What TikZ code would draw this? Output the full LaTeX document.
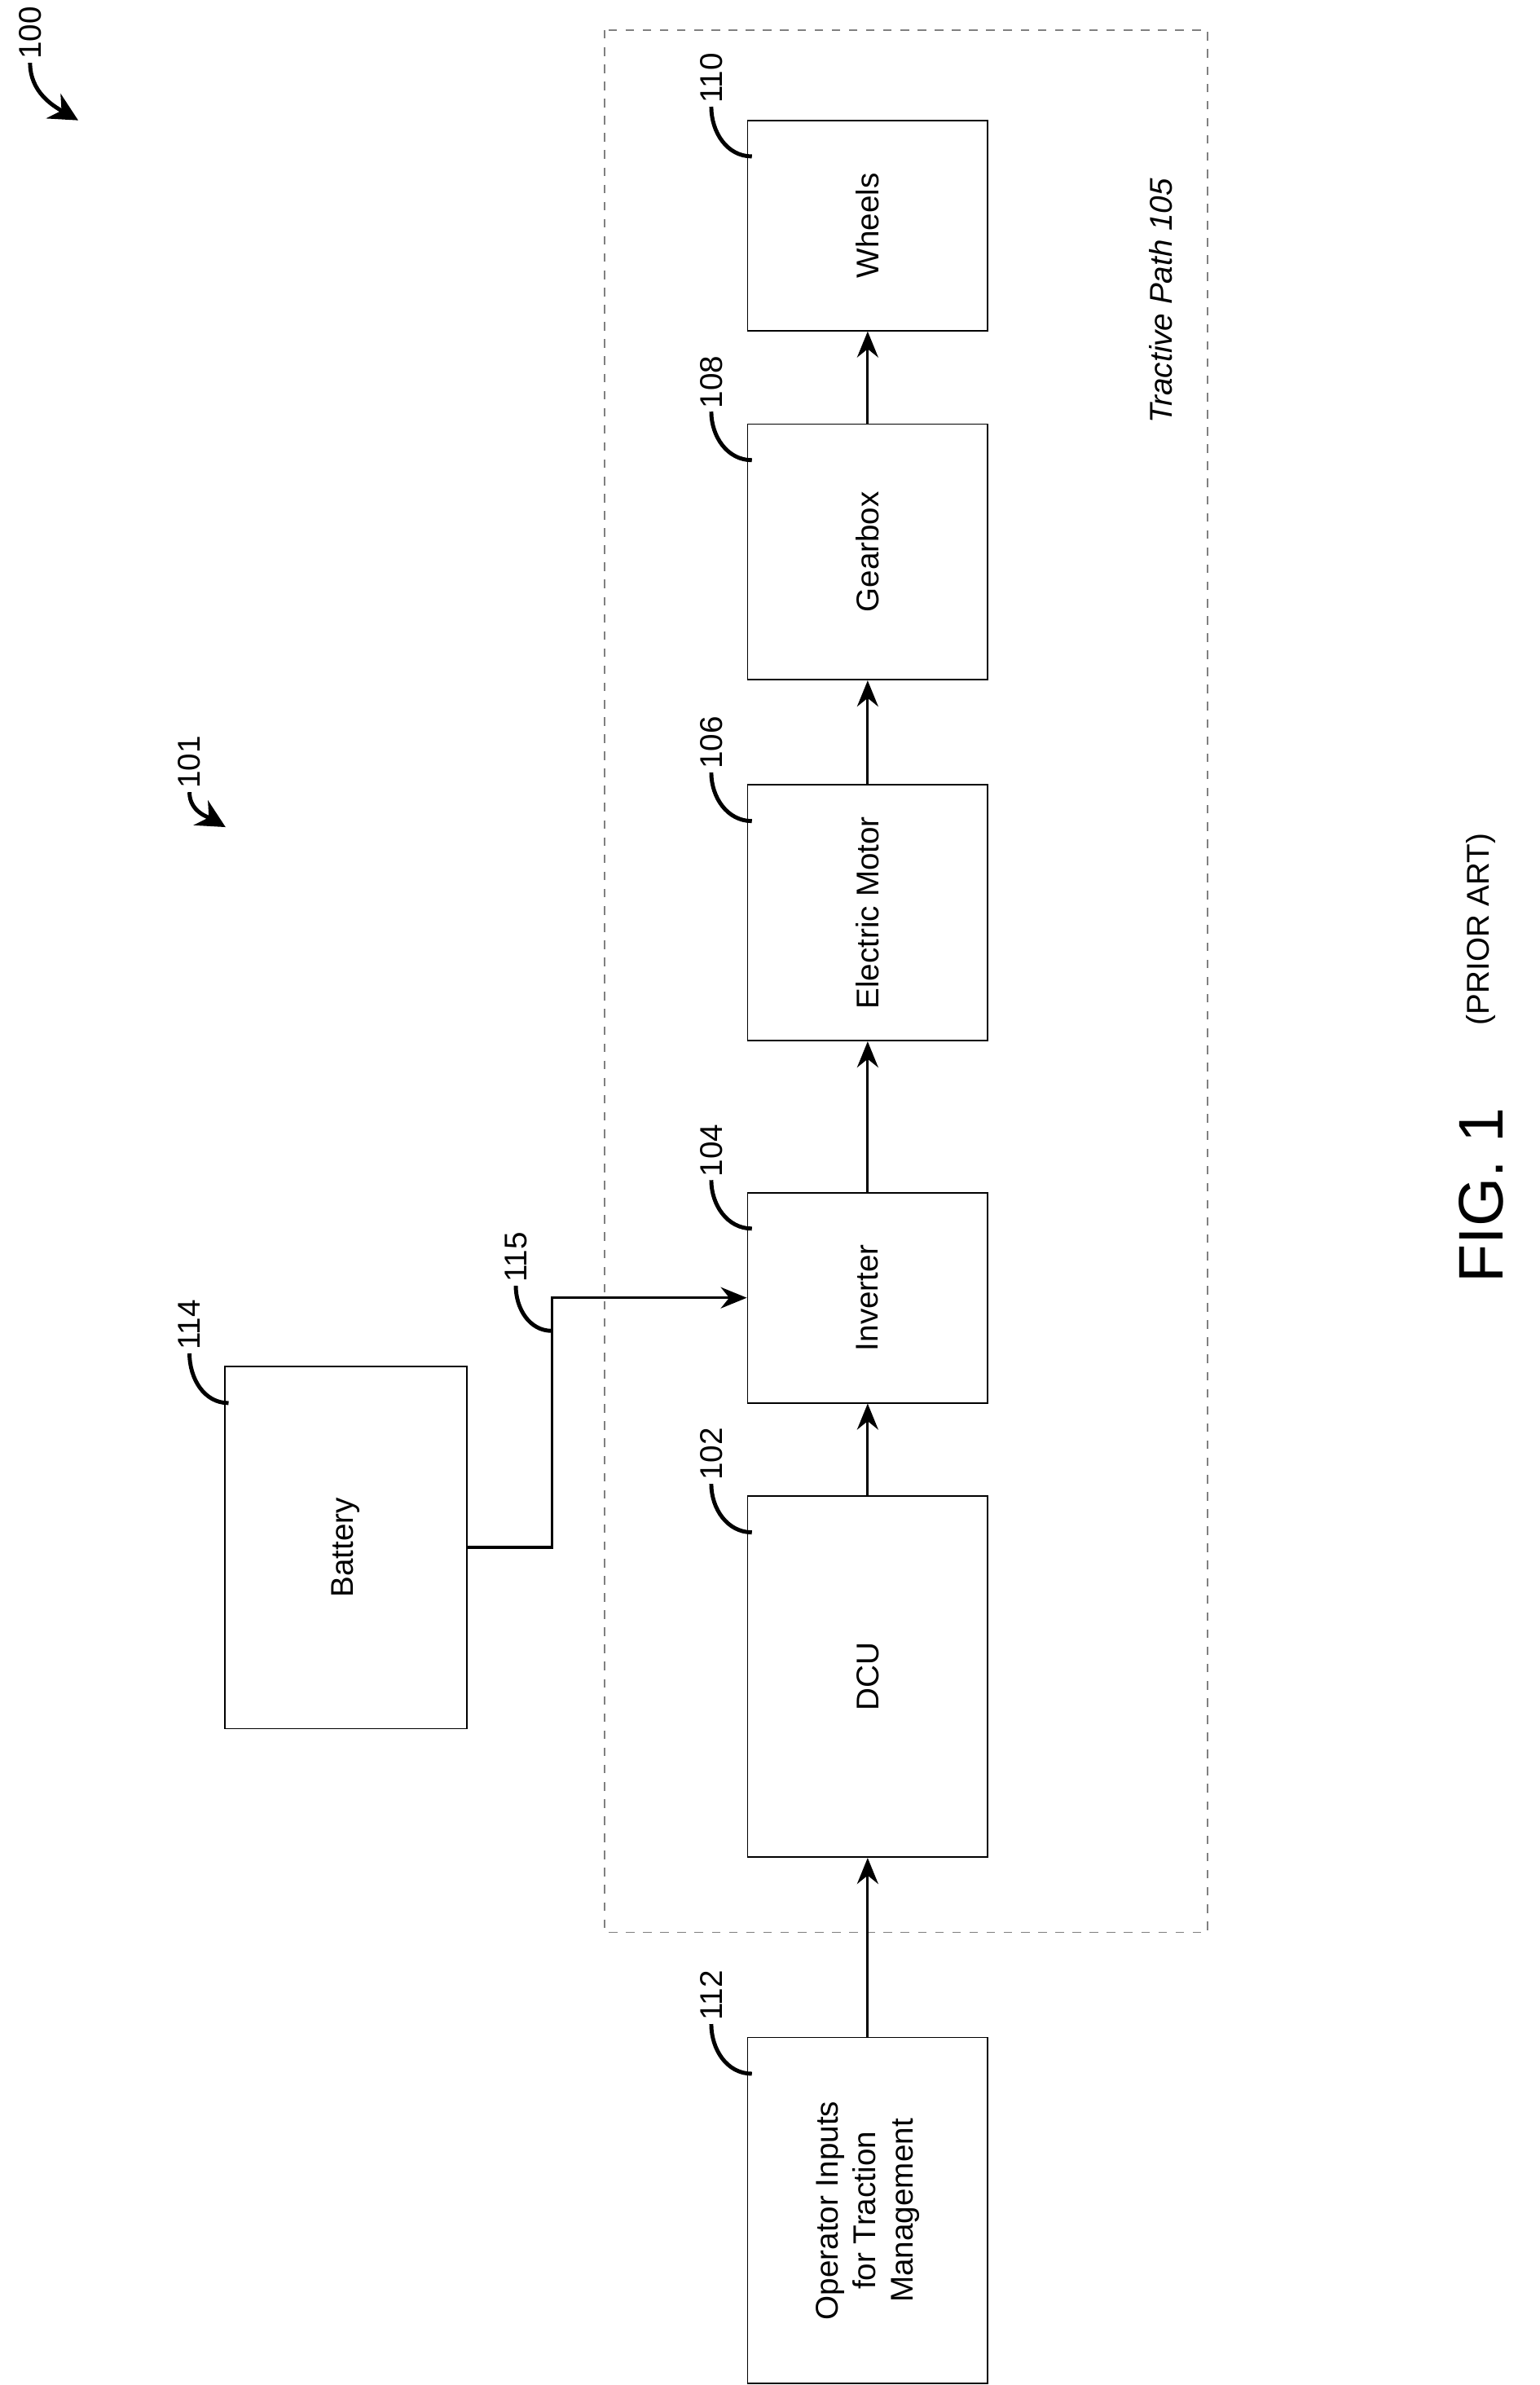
\documentclass[tikz,border=0pt]{standalone}
\usepackage{fontspec}
\setmainfont{Liberation Sans}
\usetikzlibrary{arrows.meta}
\begin{document}
\begin{tikzpicture}[x=0.01846cm,y=-0.01846cm]
	\tikzstyle{blk} = [draw=black, line width=0.5pt, rotate=90, minimum height=2.95cm, inner sep=0pt, align=center, font=\fontsize{11}{13}\selectfont]
\tikzstyle{line} = [line width=0.9pt,-{Stealth[length=3.2mm,width=2.6mm]}]
\tikzstyle{lead} = [line width=1.4pt]
\tikzstyle{num} = [rotate=90, inner sep=1pt, font=\fontsize{11}{13}\selectfont]
\useasboundingbox (0,0) rectangle (1024,1586);
\draw[gray, dashed, line width=0.4pt] (402,20) rectangle (803,1285);
\node(wh)[blk, minimum width=2.58cm] at (577,150) {Wheels};
\node(gb)[blk, minimum width=3.14cm] at (577,367) {Gearbox};
\node(em)[blk, minimum width=3.14cm] at (577,607) {Electric Motor};
\node(inv)[blk, minimum width=2.58cm] at (577,863) {Inverter};
\node(dcu)[blk, minimum width=4.43cm] at (577,1115) {DCU};
\node(op)[blk, minimum width=4.25cm] at (577,1470) {Operator Inputs\\for Traction\\Management};
\node(bat)[blk, minimum width=4.45cm, minimum height=2.97cm] at (230,1029) {Battery};
\coordinate (k) at (367,863);
\draw[line] (gb.east) -- (wh.west);
\draw[line] (em.east) -- (gb.west);
\draw[line] (inv.east) -- (em.west);
\draw[line] (dcu.east) -- (inv.west);
\draw[line] (op.east) -- (dcu.west);
\draw[line] (bat.south) -| (k) -- (inv.north);
% reference numerals
\node(n110)[num] at (473,52) {110};
\node(n108)[num] at (473,254) {108};
\node(n106)[num] at (473,494) {106};
\node(n104)[num] at (473,765) {104};
\node(n102)[num] at (473,967) {102};
\node(n112)[num] at (473,1327) {112};
\node(n114)[num] at (126,881) {114};
\node(n115)[num] at (343,836) {115};
\node(n100)[num] at (20,22) {100};
\node(n101)[num] at (126,507) {101};
\draw[lead] (n110.west) to[out=-90,in=180] (500,104);
\draw[lead] (n108.west) to[out=-90,in=180] (500,306);
\draw[lead] (n106.west) to[out=-90,in=180] (500,546);
\draw[lead] (n104.west) to[out=-90,in=180] (500,817);
\draw[lead] (n102.west) to[out=-90,in=180] (500,1019);
\draw[lead] (n112.west) to[out=-90,in=180] (500,1379);
\draw[lead] (n114.west) to[out=-90,in=180] (152,933);
\draw[lead] (n115.west) to[out=-90,in=180] (367,885);
\draw[lead,-{Stealth[length=3.5mm,width=3.5mm]}] (n100.west) to[out=-90,in=150] (52,80);
\draw[lead,-{Stealth[length=3.5mm,width=3.5mm]}] (n101.west) to[out=-90,in=150] (150,550);
\node(tp)[rotate=90, font=\itshape\fontsize{11}{13}\selectfont] at (772,200) {Tractive Path 105};
\node(fig)[rotate=90, font=\fontsize{22}{26}\selectfont] at (985,795) {FIG. 1};
\node(pa)[rotate=90, font=\fontsize{11}{13}\selectfont] at (985,618) {(PRIOR ART)};
\end{tikzpicture}
\end{document}
